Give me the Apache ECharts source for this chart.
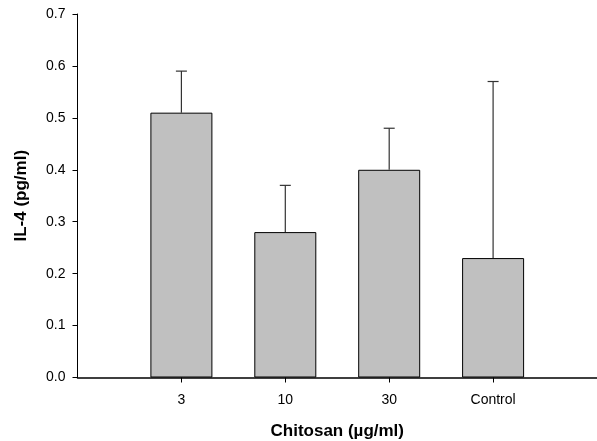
<!DOCTYPE html>
<html><head><meta charset="utf-8">
<script src="https://cdn.jsdelivr.net/npm/echarts@6/dist/echarts.min.js"></script>
<style>html,body{margin:0;padding:0;background:#fff}#c{width:597px;height:441px}</style>
</head><body><div id="c"></div>
<script>
const categories = ['3', '10', '30', 'Control'];
const means = [0.51, 0.28, 0.40, 0.23];
const upperErr = [0.59, 0.37, 0.48, 0.57];
const yTicks = [0.0, 0.1, 0.2, 0.3, 0.4, 0.5, 0.6, 0.7];

// padded category list: empty slots at both ends of the axis
const axisCats = [' '].concat(categories, ['  ']);
const barData = ['-'].concat(means, ['-']);
const errData = categories.map((c, i) => [i + 1, means[i], upperErr[i]]);

const font = 'Liberation Sans, Arial, sans-serif';
const chart = echarts.init(document.getElementById('c'));
chart.setOption({
  animation: false,
  backgroundColor: '#fff',
  grid: { left: 77.5, right: 0, top: 14, bottom: 63.5, containLabel: false, outerBoundsMode: 'none' },
  xAxis: {
    type: 'category',
    data: axisCats,
    boundaryGap: false,
    name: 'Chitosan (\u00b5g/ml)',
    nameLocation: 'middle',
    nameGap: 45,
    nameTextStyle: { fontFamily: font, fontSize: 17, fontWeight: 'bold', color: '#000' },
    axisLine: { lineStyle: { color: '#000', width: 1.5 } },
    axisTick: { length: 5, interval: (i, v) => v.trim() !== '', lineStyle: { color: '#000' } },
    axisLabel: { interval: 0, margin: 16, fontFamily: font, fontSize: 14, color: '#000' },
    splitLine: { show: false }
  },
  yAxis: {
    type: 'value',
    min: yTicks[0], max: yTicks[yTicks.length - 1], interval: 0.1,
    name: 'IL-4 (pg/ml)',
    nameLocation: 'middle',
    nameGap: 48,
    nameTextStyle: { fontFamily: font, fontSize: 17, fontWeight: 'bold', color: '#000' },
    axisLine: { show: true, lineStyle: { color: '#000', width: 1 } },
    axisTick: { show: true, length: 5, lineStyle: { color: '#000' } },
    axisLabel: { margin: 12, fontFamily: font, fontSize: 14, color: '#000', formatter: v => v.toFixed(1) },
    splitLine: { show: false }
  },
  series: [
    {
      type: 'bar',
      data: barData,
      barWidth: 62,
      itemStyle: { color: '#c0c0c0', borderColor: '#000', borderWidth: 1 },
      z: 2
    },
    {
      type: 'custom',
      data: errData,
      z: 3,
      renderItem: function (params, api) {
        const x = api.value(0);
        const top = api.coord([x, api.value(2)]);
        const base = api.coord([x, api.value(1)]);
        const hw = 5.5;
        return {
          type: 'group',
          children: [
            { type: 'line', shape: { x1: top[0], y1: top[1], x2: base[0], y2: base[1] }, style: { stroke: '#333', lineWidth: 1.2 } },
            { type: 'line', shape: { x1: top[0] - hw, y1: top[1], x2: top[0] + hw, y2: top[1] }, style: { stroke: '#333', lineWidth: 1.2 } }
          ]
        };
      }
    }
  ]
});
</script></body></html>
